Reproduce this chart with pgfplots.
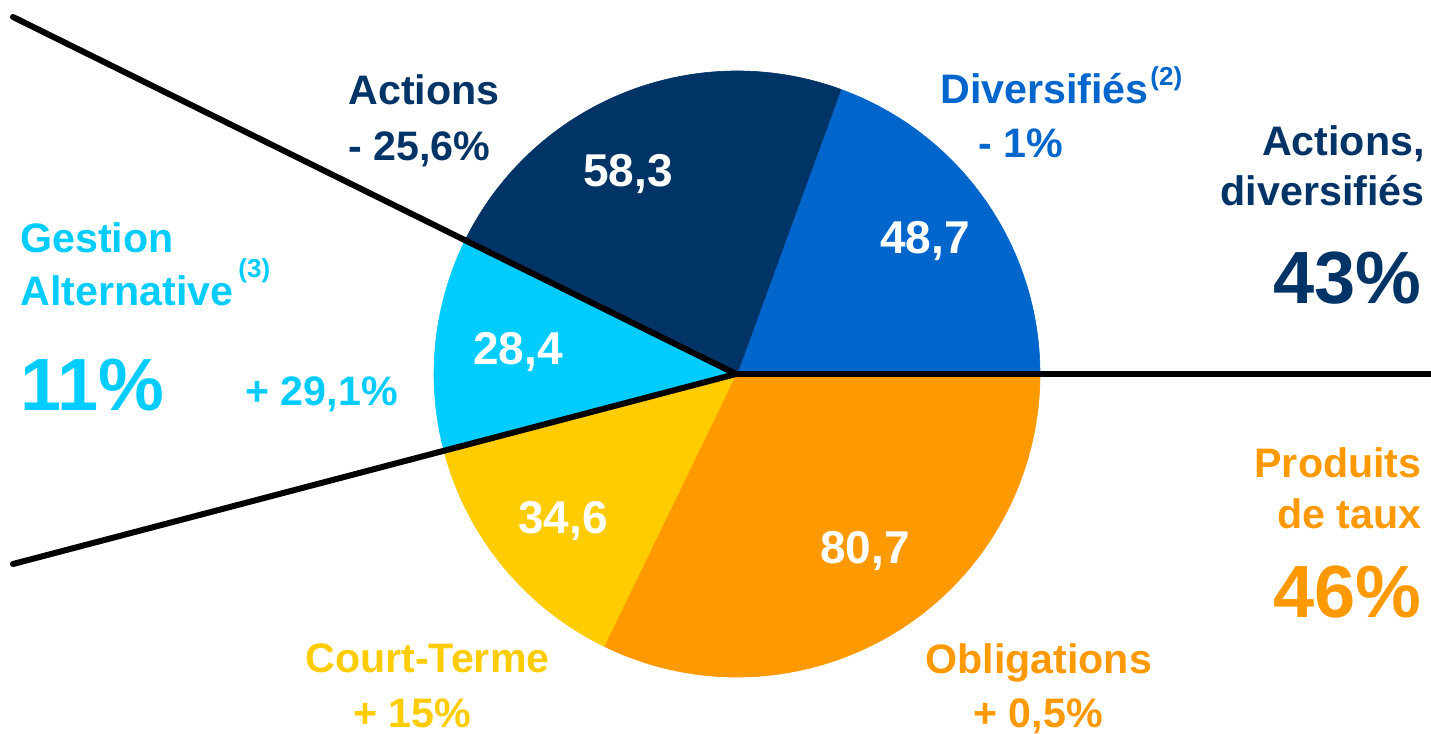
\documentclass[border=0pt]{standalone}
\usepackage{pgfplots}
\usepackage{pgfplotstable}
\pgfplotsset{compat=1.18}
\usepackage{fontspec}
\setmainfont{Liberation Sans}
\definecolor{cAct}{RGB}{0,51,102}
\definecolor{cDiv}{RGB}{0,102,204}
\definecolor{cAlt}{RGB}{0,204,255}
\definecolor{cCT}{RGB}{255,204,0}
\definecolor{cObl}{RGB}{255,153,0}
% slices in counter-clockwise order from 3 o'clock; lx ly = label position (image px)
\pgfplotstableread{
name value color lx ly
Diversifies 48.7 cDiv 925 253
Actions 58.3 cAct 628 186
Alternative 28.4 cAlt 518 364
CourtTerme 34.6 cCT 563 533
Obligations 80.7 cObl 865 563
}\piedata
\newcommand\labfont{\fontsize{20.6}{22}\selectfont\bfseries}
\newcommand\bigfont{\fontsize{37}{39}\selectfont\bfseries}
\newcommand\supfont{\fontsize{13}{14}\selectfont\bfseries}
\begin{document}
\begin{tikzpicture}
\pgfplotstablegetrowsof{\piedata}
\pgfmathtruncatemacro\nlast{\pgfplotsretval-1}
\def\total{0}
\pgfplotsforeachungrouped \i in {0,...,\nlast}{%
  \pgfplotstablegetelem{\i}{value}\of\piedata
  \pgfmathsetmacro\total{\total+\pgfplotsretval}%
}
\begin{axis}[
  width=715.5pt, height=367pt, scale only axis,
  xmin=0, xmax=1431, ymin=0, ymax=734, y dir=reverse,
  hide axis, clip=false]
\def\cum{0}
\pgfplotsforeachungrouped \i in {0,...,\nlast}{%
  \pgfplotstablegetelem{\i}{value}\of\piedata \let\pval\pgfplotsretval
  \pgfplotstablegetelem{\i}{color}\of\piedata \let\pcol\pgfplotsretval
  \pgfplotstablegetelem{\i}{lx}\of\piedata \let\plx\pgfplotsretval
  \pgfplotstablegetelem{\i}{ly}\of\piedata \let\ply\pgfplotsretval
  \pgfmathsetmacro\angA{\cum/\total*360}%
  \pgfmathsetmacro\angB{(\cum+\pval)/\total*360}%
  \edef\temp{%
    \noexpand\filldraw[fill=\pcol, draw=\pcol, line width=0.3pt] (axis cs:737,374) -- ++(\angA:151.5pt) arc[start angle=\angA, end angle=\angB, radius=151.5pt] -- cycle;
    \noexpand\node[anchor=base, inner sep=0pt, text=white, font=\noexpand\fontsize{23}{24}\noexpand\selectfont\noexpand\bfseries] at (axis cs:\plx,\ply) {\noexpand\pgfmathprintnumber[fixed,fixed zerofill,precision=1,use comma,assume math mode=true]{\pval}};
  }%
  \temp
  \pgfmathsetmacro\cum{\cum+\pval}%
}
\draw[line width=3pt, line cap=round, line join=miter] (axis cs:13,17) -- (axis cs:736,374) -- (axis cs:13,564);
\draw[line width=3pt] (axis cs:736,374) -- (axis cs:1431,374);
% Actions
\node[anchor=base west, inner sep=0pt, text=cAct, font=\labfont] at (axis cs:348,104) {Actions};
\node[anchor=base west, inner sep=0pt, text=cAct, font=\labfont] at (axis cs:348,160) {- 25,6\%};
% Diversifies
\node[anchor=base west, inner sep=0pt, text=cDiv, font=\labfont] at (axis cs:940,103) {Diversifiés};
\node[anchor=base west, inner sep=0pt, text=cDiv, font=\supfont] at (axis cs:1150,85) {(2)};
\node[anchor=base west, inner sep=0pt, text=cDiv, font=\labfont] at (axis cs:978,157) {- 1\%};
% right group top
\node[anchor=base east, inner sep=0pt, text=cAct, font=\labfont] at (axis cs:1425,155) {Actions,};
\node[anchor=base east, inner sep=0pt, text=cAct, font=\labfont] at (axis cs:1425,205) {diversifiés};
\node[anchor=base east, inner sep=0pt, text=cAct, font=\bigfont] at (axis cs:1422,303) {43\%};
% Gestion alternative
\node[anchor=base west, inner sep=0pt, text=cAlt, font=\labfont] at (axis cs:20,252) {Gestion};
\node[anchor=base west, inner sep=0pt, text=cAlt, font=\labfont] at (axis cs:20,305) {Alternative};
\node[anchor=base west, inner sep=0pt, text=cAlt, font=\supfont] at (axis cs:238,277) {(3)};
\node[anchor=base west, inner sep=0pt, text=cAlt, font=\bigfont] at (axis cs:20,410) {11\%};
\node[anchor=base west, inner sep=0pt, text=cAlt, font=\labfont] at (axis cs:245,405) {+ 29,1\%};
% Produits de taux
\node[anchor=base east, inner sep=0pt, text=cObl, font=\labfont] at (axis cs:1422,477) {Produits};
\node[anchor=base east, inner sep=0pt, text=cObl, font=\labfont] at (axis cs:1422,528) {de taux};
\node[anchor=base east, inner sep=0pt, text=cObl, font=\bigfont] at (axis cs:1422,617) {46\%};
% Court-Terme
\node[anchor=base west, inner sep=0pt, text=cCT, font=\labfont] at (axis cs:305,672) {Court-Terme};
\node[anchor=base west, inner sep=0pt, text=cCT, font=\labfont] at (axis cs:353,727) {+ 15\%};
% Obligations
\node[anchor=base west, inner sep=0pt, text=cObl, font=\labfont] at (axis cs:925,673) {Obligations};
\node[anchor=base west, inner sep=0pt, text=cObl, font=\labfont] at (axis cs:973,727) {+ 0,5\%};
\end{axis}
\pgfresetboundingbox
\path[use as bounding box] (0,0) rectangle (715.5pt,367pt);
\end{tikzpicture}
\end{document}
